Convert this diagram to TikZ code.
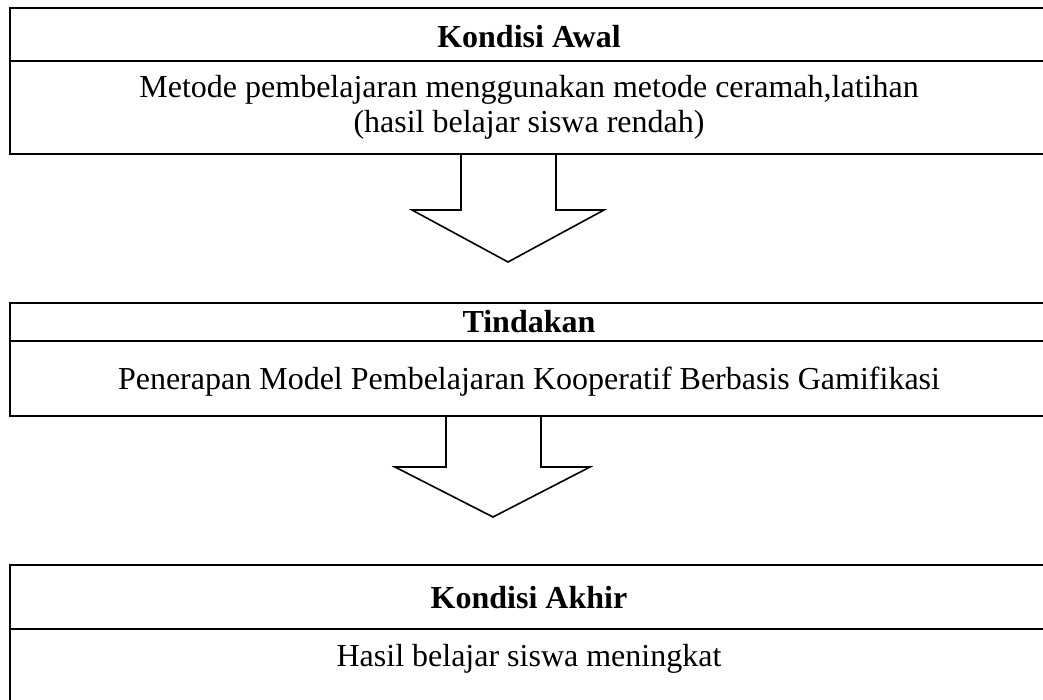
\documentclass[tikz,border=0pt]{standalone}
\usepackage{fontspec}
\setmainfont{Liberation Serif}
\begin{document}
\begin{tikzpicture}[x=1pt,y=-1pt,
  box/.style={line width=2.4pt},
  blockarrow/.style={line width=1.6pt, line join=miter, fill=white},
  txt/.style={anchor=base, inner sep=0pt, font=\fontsize{32}{36}\selectfont},
  ttl/.style={anchor=base, inner sep=0pt, font=\fontsize{32}{36}\selectfont\bfseries}]
\useasboundingbox (0,0) rectangle (1043,699);
\begin{scope}
\clip (0,0) rectangle (1043,699);
% box 1
\draw[box] (1060,8) -| (10,154) -- (1060,154);
\draw[box] (10,61) -- (1060,61);
% box 2
\draw[box] (1060,303) -| (10,416) -- (1060,416);
\draw[box] (10,341) -- (1060,341);
% box 3
\draw[box] (1060,565) -| (10,720);
\draw[box] (10,629) -- (1060,629);
\end{scope}
% arrows
\coordinate (a1) at (508,154);
\coordinate (a2) at (493,416);
\draw[blockarrow] (461,154) -- (461,210) -- (412,210) -- (508,262) -- (604,210) -- (556,210) -- (556,154) -- cycle;
\draw[blockarrow] (446,416) -- (446,467) -- (395,467) -- (493,517) -- (590,467) -- (541,467) -- (541,416) -- cycle;
% texts
\node[ttl] (t1) at (529,47) {Kondisi Awal};
\node[txt] (b1a) at (529,97) {Metode pembelajaran menggunakan metode ceramah,latihan};
\node[txt] (b1b) at (529,132) {(hasil belajar siswa rendah)};
\node[ttl] (t2) at (529,332) {Tindakan};
\node[txt] (b2) at (529,389) {Penerapan Model Pembelajaran Kooperatif Berbasis Gamifikasi};
\node[ttl] (t3) at (529,608) {Kondisi Akhir};
\node[txt] (b3) at (529,666) {Hasil belajar siswa meningkat};
\end{tikzpicture}
\end{document}
